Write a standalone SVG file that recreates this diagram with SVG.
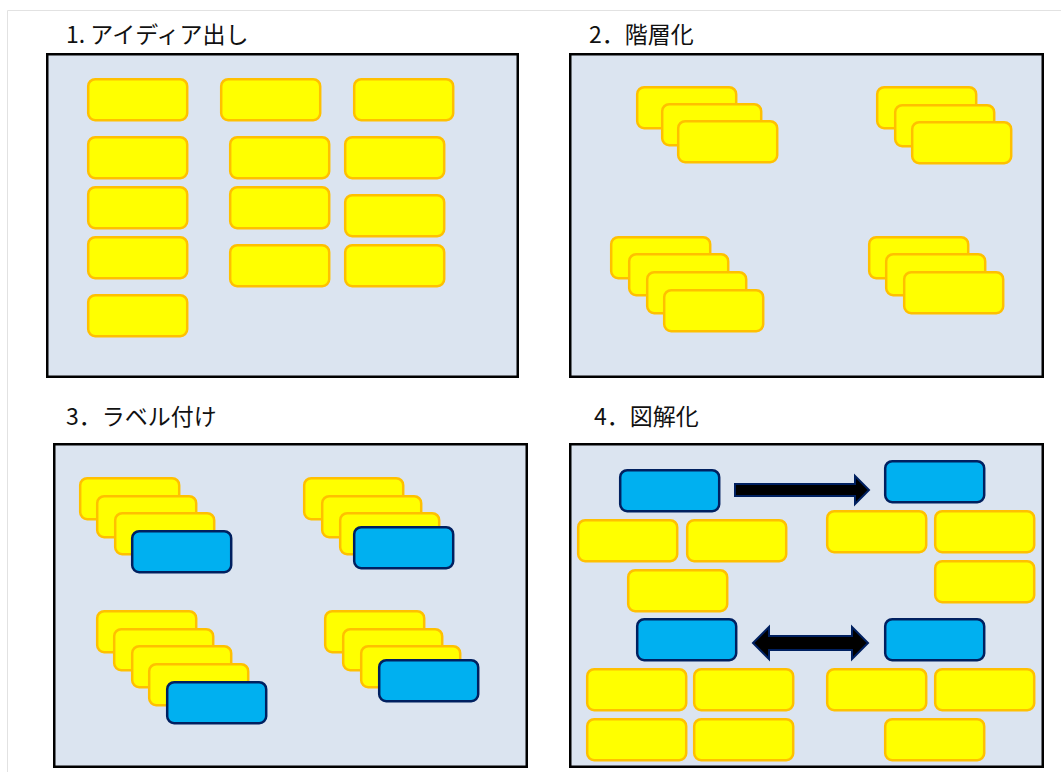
<svg xmlns="http://www.w3.org/2000/svg" width="1061" height="772" viewBox="0 0 1061 772">
<style>
.page{stroke:#E2E2E2;stroke-width:1;fill:none}
.panel{fill:#DBE4F0;stroke:#000;stroke-width:2.5}
.y{fill:#FFFF00;stroke:#FFC000;stroke-width:2.5}
.b{fill:#00B0F0;stroke:#002060;stroke-width:2.5}
.title{font-family:"Noto Sans CJK JP","Noto Sans",sans-serif;font-size:23px;fill:#111}
.arrow{fill:#000;stroke:#002060;stroke-width:2;stroke-linejoin:miter}
</style>
<defs>
<rect id="yb" class="y" width="99" height="41" rx="7"/>
<rect id="bb" class="b" width="99" height="41" rx="7"/>
</defs>
<rect width="1061" height="772" fill="#fff"/>
<path class="page" d="M7.5 772V10.5H1061"/>

<g id="panel1">
<text class="title" x="66" y="43">1. アイディア出し</text>
<rect class="panel" x="47.25" y="54.25" width="470.5" height="322.5"/>
<use href="#yb" x="88.2" y="79.2"/>
<use href="#yb" x="88.2" y="137.2"/>
<use href="#yb" x="88.2" y="187.2"/>
<use href="#yb" x="88.2" y="237.2"/>
<use href="#yb" x="88.2" y="295.2"/>
<use href="#yb" x="221.2" y="79.2"/>
<use href="#yb" x="230.2" y="137.2"/>
<use href="#yb" x="230.2" y="187.2"/>
<use href="#yb" x="230.2" y="245.2"/>
<use href="#yb" x="354.2" y="79.2"/>
<use href="#yb" x="345.2" y="137.2"/>
<use href="#yb" x="345.2" y="195.2"/>
<use href="#yb" x="345.2" y="245.2"/>
</g>

<g id="panel2">
<text class="title" x="589" y="43">2．階層化</text>
<rect class="panel" x="570.25" y="54.25" width="472.5" height="322.5"/>
<use href="#yb" x="637.2" y="87.2"/>
<use href="#yb" x="662.2" y="104.2"/>
<use href="#yb" x="678.2" y="121.2"/>
<use href="#yb" x="877.2" y="87.2"/>
<use href="#yb" x="895.2" y="105.2"/>
<use href="#yb" x="912.2" y="122.2"/>
<use href="#yb" x="611.2" y="237.2"/>
<use href="#yb" x="629.2" y="254.2"/>
<use href="#yb" x="647.2" y="272.2"/>
<use href="#yb" x="664.2" y="290.2"/>
<use href="#yb" x="869.2" y="237.2"/>
<use href="#yb" x="886.2" y="254.2"/>
<use href="#yb" x="904.2" y="272.2"/>
</g>

<g id="panel3">
<text class="title" x="66" y="425">3．ラベル付け</text>
<rect class="panel" x="54.25" y="444.25" width="472.5" height="322.5"/>
<use href="#yb" x="80.2" y="478.2"/>
<use href="#yb" x="97.2" y="496.2"/>
<use href="#yb" x="115.2" y="513.2"/>
<use href="#bb" x="132.2" y="531.2"/>
<use href="#yb" x="304.2" y="478.2"/>
<use href="#yb" x="322.2" y="496.2"/>
<use href="#yb" x="340.2" y="513.2"/>
<use href="#bb" x="354.2" y="527.2"/>
<use href="#yb" x="97.2" y="611.2"/>
<use href="#yb" x="114.2" y="629.2"/>
<use href="#yb" x="132.2" y="646.2"/>
<use href="#yb" x="149.2" y="664.2"/>
<use href="#bb" x="167.2" y="682.2"/>
<use href="#yb" x="325.2" y="611.2"/>
<use href="#yb" x="343.2" y="629.2"/>
<use href="#yb" x="361.2" y="646.2"/>
<use href="#bb" x="379.2" y="660.2"/>
</g>

<g id="panel4">
<text class="title" x="594" y="425">4．図解化</text>
<rect class="panel" x="570.25" y="444.25" width="472.5" height="322.5"/>
<g id="n4-blue">
<use href="#bb" x="620.2" y="470.2"/>
<use href="#bb" x="885.2" y="461.2"/>
<use href="#bb" x="637.2" y="619.2"/>
<use href="#bb" x="885.2" y="619.2"/>
</g>
<g id="n4-yellow">
<use href="#yb" x="578.2" y="520.2"/>
<use href="#yb" x="687.2" y="520.2"/>
<use href="#yb" x="827.2" y="511.2"/>
<use href="#yb" x="935.2" y="511.2"/>
<use href="#yb" x="628.2" y="570.2"/>
<use href="#yb" x="935.2" y="561.2"/>
<use href="#yb" x="587.2" y="669.2"/>
<use href="#yb" x="694.2" y="669.2"/>
<use href="#yb" x="827.2" y="669.2"/>
<use href="#yb" x="935.2" y="669.2"/>
<use href="#yb" x="587.2" y="719.2"/>
<use href="#yb" x="694.2" y="719.2"/>
<use href="#yb" x="885.2" y="719.2"/>
</g>
</g>

<g id="connectors">
<polygon class="arrow" points="735,484 855,484 855,476 869,490 855,504 855,496 735,496"/>
<polygon class="arrow" points="753,643 769,627 769,636 852,636 852,627 868,643 852,659 852,650 769,650 769,659"/>
</g>
</svg>
